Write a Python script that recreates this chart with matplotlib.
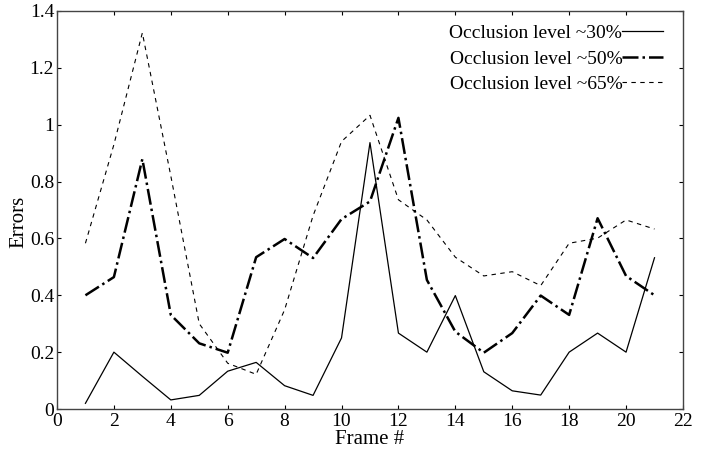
import numpy as np
import matplotlib
matplotlib.use("Agg")
import matplotlib.pyplot as plt
from matplotlib.ticker import FuncFormatter, MultipleLocator

plt.rcParams['font.family'] = ['Liberation Serif', 'DejaVu Serif']

frames = list(range(1, 22))
occ30 = [0.02, 0.20, 0.115, 0.032, 0.048, 0.133, 0.164, 0.082, 0.048, 0.25,
         0.937, 0.267, 0.20, 0.399, 0.131, 0.064, 0.049, 0.20, 0.267, 0.20, 0.532]
occ50 = [0.40, 0.464, 0.879, 0.331, 0.231, 0.198, 0.534, 0.598, 0.531, 0.668,
         0.73, 1.024, 0.454, 0.272, 0.198, 0.267, 0.399, 0.331, 0.671, 0.468, 0.40]
occ65 = [0.583, 0.93, 1.323, 0.82, 0.30, 0.161, 0.122, 0.349, 0.68, 0.941,
         1.033, 0.736, 0.665, 0.534, 0.468, 0.483, 0.434, 0.583, 0.601, 0.665, 0.633]
labels = ['Occlusion level ~30%', 'Occlusion level ~50%', 'Occlusion level ~65%']

fig = plt.figure(figsize=(7.07, 4.57), dpi=100)
ax = fig.add_axes([0.0806, 0.105, 0.8854, 0.871])

ax.plot(frames, occ30, '-', color='black', linewidth=0.9, label=labels[0])
ax.plot(frames, occ50, '-.', color='black', linewidth=1.8, label=labels[1])
ax.plot(frames, occ65, '--', color='black', linewidth=0.8, dashes=(4, 4), label=labels[2])

ax.set_xlim(0, 22)
ax.set_ylim(0, 1.4)
ax.xaxis.set_major_locator(MultipleLocator(2))
ax.yaxis.set_major_locator(MultipleLocator(0.2))
ax.yaxis.set_major_formatter(FuncFormatter(lambda v, p: '%g' % round(v, 2)))
ax.tick_params(direction='in', top=True, right=True, labelsize=14, length=3, width=0.8)
ax.tick_params(axis='y', pad=2)
ax.tick_params(axis='x', pad=3)
for s in ax.spines.values():
    s.set_linewidth(1.0)
    s.set_color('#444444')

ax.set_xlabel('Frame #', fontsize=15, labelpad=0)
ax.set_ylabel('Errors', fontsize=15)
ax.yaxis.set_label_coords(-0.046, 0.47)

ax.legend(loc='upper right', bbox_to_anchor=(0.99, 1.0), frameon=False,
          markerfirst=False, fontsize=14, handlelength=2.1, handletextpad=0.0,
          labelspacing=0.4, borderaxespad=0.3)

fig.savefig('out.png', dpi=100)
